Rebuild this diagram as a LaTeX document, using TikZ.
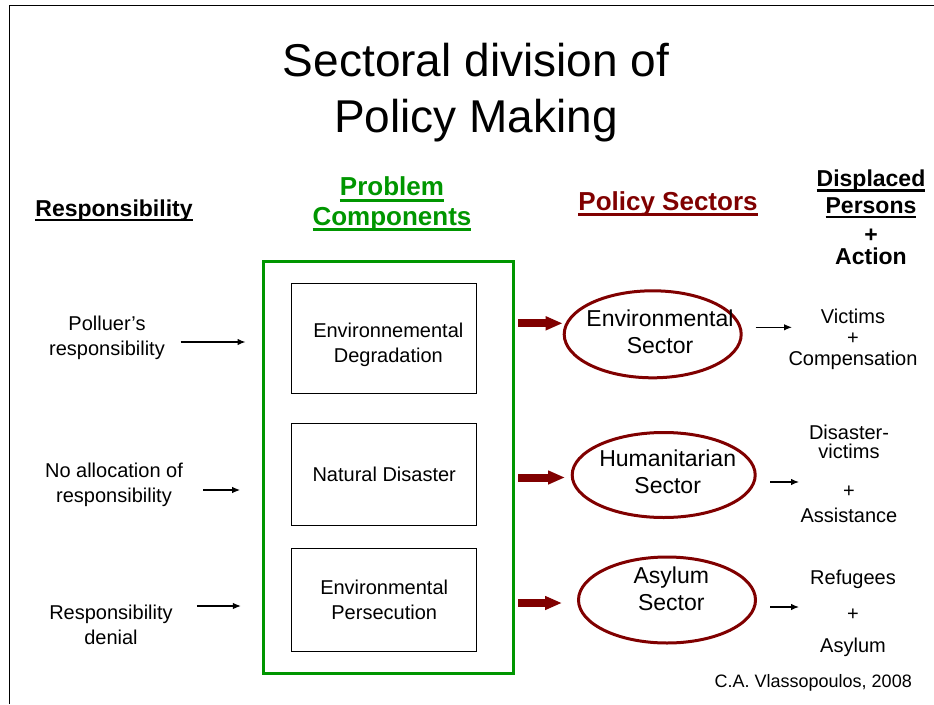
\documentclass[tikz,border=0pt]{standalone}
\usepackage{fontspec}
\setmainfont{Liberation Sans}
\usepackage{tikz}
\usetikzlibrary{shapes.geometric,arrows.meta,positioning}
\definecolor{compgreen}{RGB}{0,150,0}
\definecolor{sectorred}{RGB}{128,0,0}
\newsavebox\ulbox
\newcommand{\undl}[1]{\sbox\ulbox{#1}\smash{\rlap{\rule[-0.22em]{\wd\ulbox}{0.105em}}}\usebox\ulbox}
\tikzset{every node/.style={inner sep=0pt,align=center},
         head/.style={font=\bfseries\fontsize{23}{26.6}\selectfont},
         green head/.style={font=\bfseries\fontsize{26}{29.3}\selectfont,text=compgreen},
         red head/.style={font=\bfseries\fontsize{26}{29}\selectfont,text=sectorred},
         body text/.style={font=\fontsize{20}{25}\selectfont},
         comp box/.style={rectangle,draw,line width=1pt,minimum width=185pt,font=\fontsize{20}{25}\selectfont},
         sector/.style={ellipse,draw=sectorred,line width=3pt},
         sector text/.style={font=\fontsize{23}{27.5}\selectfont},
         small arrow/.style={-{Latex[length=8pt,width=6.5pt]},line width=1.2pt},
         big arrow/.style={-{Triangle[length=17pt,width=13pt]},line width=8pt,sectorred},
}
\begin{document}
\begin{tikzpicture}[x=1pt,y=-1pt]
\useasboundingbox (0,0) rectangle (934,704);
\draw[line width=1pt] (934,5.5) -- (9,5.5) -- (9,704);
\node[font=\fontsize{46}{56}\selectfont] (title) at (476,93) {Sectoral division of\\Policy Making};

% column heads
\node[head,anchor=base] (resphead) at (114,216) {\undl{Responsibility}};
\node[green head] (probhead) at (392,203.8) {\undl{Problem}\\\undl{Components}};
\node[red head,anchor=base] (sechead) at (668,210) {\undl{Policy Sectors}};
\node[head] (dphead) at (871,217.6) {\undl{Displaced}\\\undl{Persons}\\[3.1pt]+\\[-4.6pt]Action};

\node[draw=compgreen,line width=3pt,minimum width=250pt,minimum height=412pt] (comps) at (388.3,467.2) {};
\node[comp box,minimum height=109.7pt] (degr) at (384.2,338.2) {};
\node[body text] (degrtxt) at (388.3,345) {Environnemental\\Degradation};
\node[comp box,minimum height=102pt] (disaster) at (384.2,474) {Natural Disaster};
\node[comp box,minimum height=103pt] (persec) at (384.2,599.5) {Environmental\\Persecution};

\node[body text] (polluer) at (107,337.4) {Polluer's\\responsibility};
\node[body text] (noalloc) at (114,484.4) {No allocation of\\responsibility};
\node[body text] (denial) at (111,624.8) {Responsibility\\denial};
\draw[small arrow] ([xshift=15.5pt,yshift=-4.6pt]polluer.east) -- ++(65,0);
\draw[small arrow] ([xshift=20pt,yshift=-5.6pt]noalloc.east) -- ++(37,0);
\draw[small arrow] ([xshift=24pt,yshift=18.8pt]denial.east) -- ++(44,0);

\node[sector,minimum width=177pt,minimum height=87pt] (envsec) at (652.7,334.3) {};
\node[sector,minimum width=183pt,minimum height=85pt] (humsec) at (663.7,475) {};
\node[sector,minimum width=177pt,minimum height=86pt] (asysec) at (667,600) {};
\node[sector text] (envtxt) at (660,332) {Environmental\\Sector};
\node[sector text] (humtxt) at (667.7,472) {Humanitarian\\Sector};
\node[sector text] (asytxt) at (671.3,589) {Asylum\\Sector};

\draw[big arrow,shorten <=3.2pt] (comps.east |- 0,323.3) -- (envsec.west |- 0,323.3);
\draw[big arrow,shorten <=3.2pt,shorten >=5.7pt] (comps.east |- 0,477.5) -- (humsec.west |- 0,477.5);
\draw[big arrow,shorten <=3.2pt,shorten >=15pt] (comps.east |- 0,603) -- (asysec.west |- 0,603);

\node[font=\fontsize{20}{21}\selectfont] (victims) at (853,339) {Victims\\+\\Compensation};
\node[font=\fontsize{20}{19.3}\selectfont] (disvict) at (849,474) {Disaster-\\victims\\[19.4pt]+\\[6pt]Assistance};
\node[font=\fontsize{20}{20}\selectfont] (refug) at (853,613.5) {Refugees\\[16.3pt]+\\[12pt]Asylum};
\draw[small arrow] ([shift={(13,-7)}]envsec.east) -- ++(36.3,0);
\draw[small arrow] ([shift={(13.3,7)}]humsec.east) -- ++(29,0);
\draw[small arrow] ([shift={(13,7)}]asysec.east) -- ++(29,0);

\node[font=\fontsize{18}{20}\selectfont,anchor=base east] (credit) at (912,687.5) {C.A. Vlassopoulos, 2008};
\end{tikzpicture}
\end{document}
